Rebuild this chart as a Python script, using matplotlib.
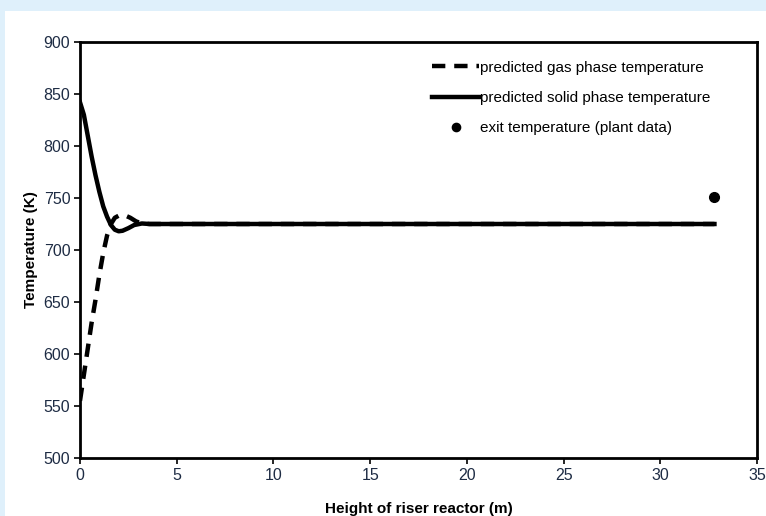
import matplotlib.pyplot as plt
from matplotlib.patches import Rectangle

plt.rcParams['font.family'] = ['Liberation Sans', 'DejaVu Sans']

# predicted temperatures along the riser
gas_x = [0, 0.2, 0.4, 0.6, 0.8, 1.0, 1.2, 1.4, 1.6, 1.8, 2.0, 2.3, 2.6, 2.9, 3.2, 3.6, 4.0, 10, 20, 30, 32.8]
gas_t = [555, 580, 605, 630, 652, 676, 697, 714, 725, 731, 733, 733.5, 731, 727.5, 725.5, 725, 725, 725, 725, 725, 725]

solid_x = [0, 0.2, 0.4, 0.6, 0.8, 1.0, 1.2, 1.4, 1.6, 1.8, 2.0, 2.2, 2.5, 2.8, 3.2, 3.6, 4.0, 10, 20, 30, 32.8]
solid_t = [842, 830, 810, 790, 772, 756, 742, 732, 724, 719.5, 718, 718.5, 721, 724, 725.5, 725, 725, 725, 725, 725, 725]

plant_x = [32.8]
plant_t = [751]

xticks = [0, 5, 10, 15, 20, 25, 30, 35]
yticks = [500, 550, 600, 650, 700, 750, 800, 850, 900]

fig = plt.figure(figsize=(7.66, 5.16), dpi=100)
fig.patch.set_facecolor('#dff0fb')
fig.add_artist(Rectangle((5 / 766, 0), 1, 1 - 11 / 516, transform=fig.transFigure,
                         facecolor='white', edgecolor='none', zorder=0))

ax = fig.add_axes([80 / 766, 1 - 458 / 516, (757 - 80) / 766, (458 - 42) / 516])
ax.set_facecolor('white')

ax.plot(gas_x, gas_t, color='black', lw=3.2, dashes=(3, 2),
        label='predicted gas phase temperature')
ax.plot(solid_x, solid_t, color='black', lw=3.2, label='predicted solid phase temperature')
ax.plot(plant_x, plant_t, 'o', color='black', ms=7, label='exit temperature (plant data)')

ax.set_xlim(0, 35)
ax.set_ylim(500, 900)
ax.set_xticks(xticks)
ax.set_yticks(yticks)
ax.tick_params(direction='out', length=4, width=1.2, colors='black',
               labelcolor='#1e2c44', labelsize=11.5, pad=3)
for s in ax.spines.values():
    s.set_linewidth(2)

ax.set_xlabel('Height of riser reactor (m)', fontsize=11, fontweight='bold', labelpad=14)
ax.set_ylabel('Temperature (K)', fontsize=11, fontweight='bold', labelpad=4)

ax.legend(loc='upper left', bbox_to_anchor=(0.52, 0.955), frameon=False,
          borderpad=0, borderaxespad=0, markerscale=0.85,
          fontsize=11, handlelength=3.1, handletextpad=0.05, labelspacing=1.07)

fig.savefig('out.png', dpi=100, facecolor=fig.get_facecolor())
